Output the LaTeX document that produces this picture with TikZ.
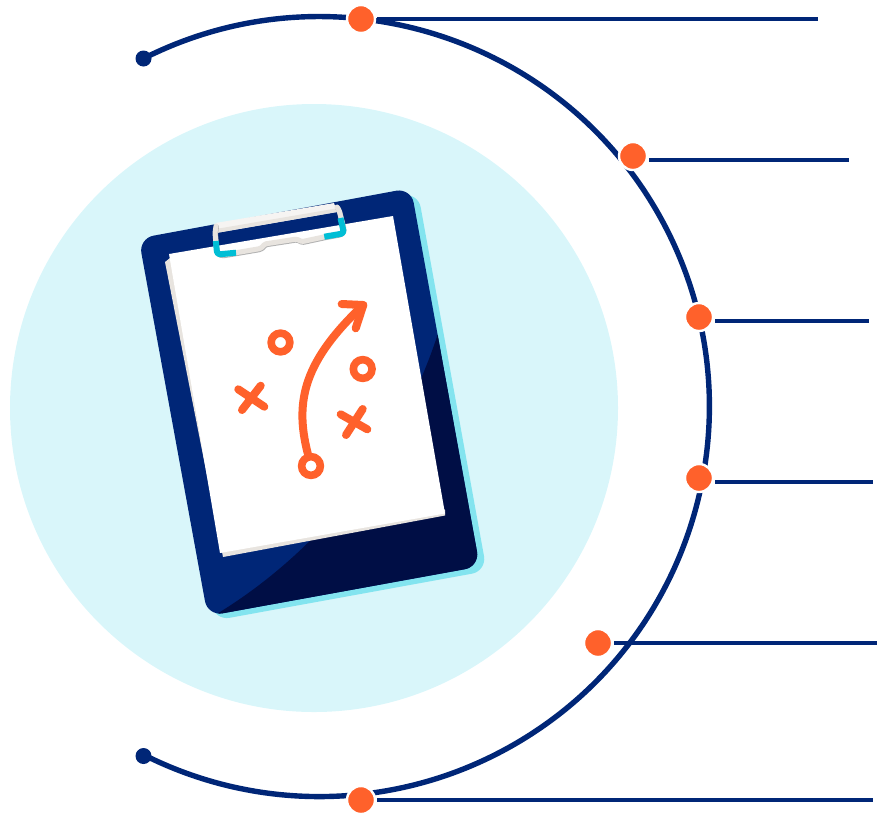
\documentclass[tikz,border=0pt]{standalone}
\usepackage{xcolor}
\usetikzlibrary{arrows.meta,positioning,calc}
\definecolor{navy}{HTML}{002677}
\definecolor{darknavy}{HTML}{000E45}
\definecolor{tomato}{HTML}{FF612B}
\definecolor{paleblue}{HTML}{D9F6FA}
\definecolor{shadowblue}{HTML}{83E4EF}
\definecolor{clipcyan}{HTML}{00BED5}
\definecolor{sheetgrey}{HTML}{E8E4DF}
\newcommand{\boardoutline}{(138.7,238.4) -- (411,188) -- (479.7,566.5) -- (207.7,616) -- cycle}
\newcommand{\clipwire}{(216,226) -- (215,233) -- (216.5,250) -- (218,253.5) -- (222,255) -- (236,252.7) -- (260,248.6) -- (262.5,247) -- (264.5,244) -- (296.7,239) -- (301.7,241.7) -- (325,236.7) -- (340,234) -- (343,232) -- (343.5,228) -- (339,210) -- (337,207)}

\begin{document}
\begin{tikzpicture}[
    x=1pt, y=-1pt,
    ring/.style={navy, line width=5.4pt},
    leader/.style={navy, line width=4.4pt},
    stop/.style={circle, fill=tomato, draw=white, line width=2.4pt, inner sep=0pt, minimum size=28pt, outer sep=2pt},
    tail/.style={circle, fill=navy, inner sep=0pt, minimum size=16pt},
    board/.style={rounded corners=15pt},
    wire/.style={line width=5pt, rounded corners=1.5pt, line cap=round, line join=round},
    play/.style={tomato, line width=8pt, line cap=round, line join=round},
    token/.style={circle, draw=tomato, line width=7.6pt, inner sep=0pt, minimum size=18.7pt}
]
\useasboundingbox (0,0) rectangle (877,815);
\fill[paleblue] (314,408) circle[radius=304pt];

\fill[shadowblue, board, shift={(7,4.5)}] \boardoutline;
\fill[navy, board] \boardoutline;
\begin{scope}
\clip[board] \boardoutline;
\fill[darknavy] (215,615) .. controls (290,570) and (390,480) .. (437.5,335) -- (500,335) -- (500,640) -- (215,640) -- cycle;
\end{scope}

\fill[sheetgrey] (165,262) -- (175,254) -- (445,510) -- (445,515.5) -- (223,557) -- cycle;
\fill[white] (169,254) -- (393,216) -- (445,513.5) -- (220,553) -- cycle;

\fill[white!60!sheetgrey] (215.5,223) -- (334,203) -- (337,212) -- (216,233) -- cycle;
\fill[sheetgrey] (216,229) -- (336,208.5) -- (337,212) -- (216,233) -- cycle;
\draw[wire, black!30, shift={(0.5,0.9)}] \clipwire;
\draw[wire, sheetgrey] \clipwire;
\draw[wire, clipcyan, line width=6pt, line cap=butt, rounded corners=3pt] (215.8,241) -- (217.2,254.5) -- (236,252.7);
\draw[wire, clipcyan, line width=6pt, line cap=butt, rounded corners=3pt] (340.5,218) -- (344,233.3) -- (324.3,236.7);

\node[token] (ringa) at (280.5,342.5) {};
\node[token] (ringb) at (362.7,369) {};
\node[token] (ringc) at (311,466) {};
\coordinate (tip) at (363.3,305);
\draw[play] (ringc) .. controls (294,400) and (305,360) .. (tip);
\draw[play] (341.7,304) -- (tip) -- (355.7,328.3);
\draw[play] (238.3,389.3) -- (264.3,406.7);
\draw[play] (260.7,385.7) -- (242,410);
\draw[play] (340.7,414.3) -- (367.3,429.3);
\draw[play] (362.7,409) -- (346,435);

\node[tail] (top) at (143.5,58.5) {};
\node[tail] (bottom) at (143.5,756) {};
\draw[ring] (top.center) arc[start angle=116.8, end angle=-116.8, radius=390pt];

\node[stop] (a) at (361,19) {};
\node[stop] (b) at (633,156) {};
\node[stop] (c) at (699,317) {};
\node[stop] (d) at (699,478) {};
\node[stop] (e) at (598,643) {};
\node[stop] (f) at (361,800) {};
\coordinate (enda) at (818,19);
\coordinate (endb) at (849,160);
\coordinate (endc) at (869,321);
\coordinate (endd) at (873,482);
\coordinate (ende) at (877,643);
\coordinate (endf) at (873,800);
\draw[leader] (a.east |- enda) -- (enda);
\draw[leader] (b.east |- endb) -- (endb);
\draw[leader] (c.east |- endc) -- (endc);
\draw[leader] (d.east |- endd) -- (endd);
\draw[leader] (e.east |- ende) -- (ende);
\draw[leader] (f.east |- endf) -- (endf);
\end{tikzpicture}
\end{document}
